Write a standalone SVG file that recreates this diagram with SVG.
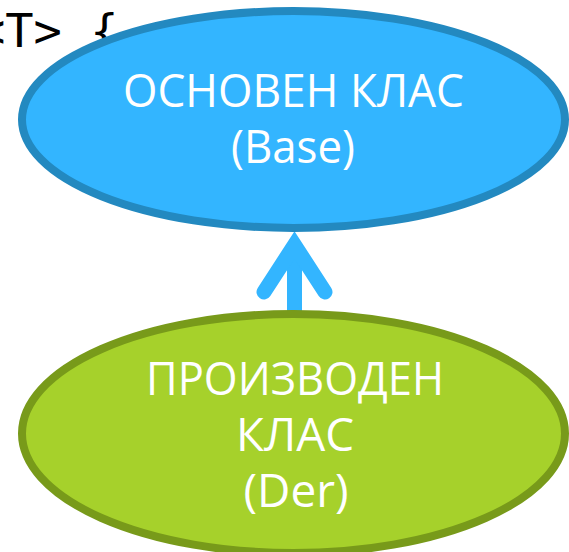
<svg xmlns="http://www.w3.org/2000/svg" width="569" height="552" viewBox="0 0 569 552">
  <style>
    .code { font-family: "DejaVu Sans Mono", "Liberation Mono", monospace; font-size: 47px; fill: #000000; }
    .lbl { font-family: "Open Sans", "Noto Sans", "DejaVu Sans", sans-serif; font-size: 46px; fill: #ffffff; text-anchor: middle; }
    .base { fill: #33b5ff; stroke: #2389c0; stroke-width: 8; }
    .der { fill: #a6d12b; stroke: #789a1a; stroke-width: 8; }
    .conn { stroke: #33b5ff; stroke-width: 15; fill: none; }
  </style>
  <rect width="569" height="552" fill="#ffffff"/>
  <text class="code" x="-23" y="47">&lt;T&gt; {</text>
  <g id="connectors">
    <line class="conn" x1="294.5" y1="314" x2="294.5" y2="250" stroke-linecap="butt"/>
    <polyline class="conn" points="264,292 294.5,245 325,292" stroke-linecap="round" stroke-linejoin="miter" stroke-miterlimit="10"/>
  </g>
  <g id="base">
    <ellipse class="base" cx="293.5" cy="119.5" rx="271.5" ry="108.5"/>
    <text class="lbl" x="293.5" y="107" textLength="341" lengthAdjust="spacingAndGlyphs">ОСНОВЕН КЛАС</text>
    <text class="lbl" x="293" y="163" textLength="124" lengthAdjust="spacingAndGlyphs">(Base)</text>
  </g>
  <g id="der">
    <ellipse class="der" cx="293.5" cy="433.5" rx="271.5" ry="119.5"/>
    <text class="lbl" x="295" y="395" textLength="298" lengthAdjust="spacingAndGlyphs">ПРОИЗВОДЕН</text>
    <text class="lbl" x="295" y="451" textLength="118" lengthAdjust="spacingAndGlyphs">КЛАС</text>
    <text class="lbl" x="296" y="507" textLength="105" lengthAdjust="spacingAndGlyphs">(Der)</text>
  </g>
</svg>
